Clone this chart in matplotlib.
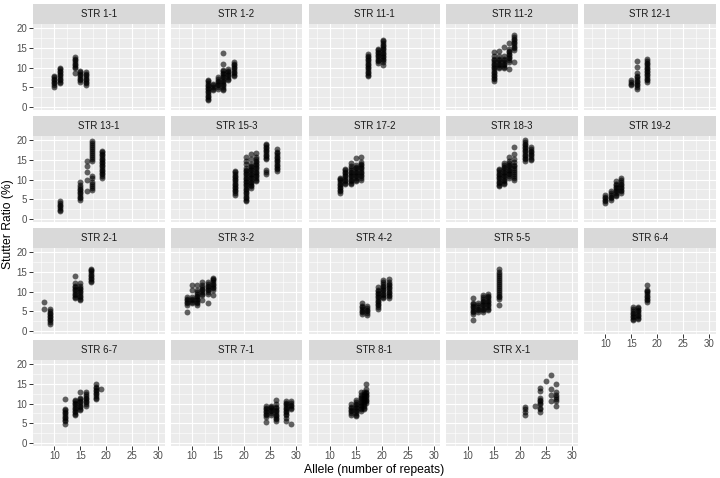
import matplotlib
matplotlib.use("Agg")
import matplotlib.pyplot as plt

plt.rcParams['font.family'] = ['Liberation Sans', 'DejaVu Sans']

# each panel: list of (allele, [stutter ratios])
str_1_1 = [(10, [5.1, 5.6, 6.0, 6.4, 6.8, 7.2, 7.6, 7.9]),
           (11, [6.0, 6.4, 6.8, 7.2, 7.6, 8.0, 8.4, 8.8, 9.2, 9.6, 10.0]),
           (14, [8.7, 9.8, 10.2, 10.6, 11.0, 11.4, 11.8, 12.2, 12.6]),
           (15, [6.4, 6.8, 7.2, 7.6, 8.0, 8.4, 8.8, 9.1]),
           (16, [5.5, 6.0, 6.4, 6.8, 7.2, 7.6, 8.0, 8.4, 8.8])]
str_1_2 = [(13, [1.7, 2.1, 2.5, 2.9, 3.3, 3.7, 4.1, 4.5, 4.9, 5.3, 5.7, 6.1, 6.5, 6.9]),
           (14, [4.3, 4.7, 5.1, 5.5, 5.9]),
           (15, [4.7, 5.1, 5.5, 5.9, 6.3, 6.7, 7.1, 7.5]),
           (16, [4.3, 4.7, 5.1, 5.5, 5.9, 6.3, 6.7, 7.1, 7.5, 7.9, 8.3, 8.7, 9.1, 9.5, 11.0, 13.8]),
           (17, [6.8, 7.2, 7.6, 8.0, 8.4, 8.8, 9.2, 9.6]),
           (18, [7.8, 8.2, 8.6, 9.0, 9.4, 9.8, 10.2, 10.6, 11.0, 11.4])]
str_11_1 = [(17.3, [7.8, 8.2, 8.6, 9.0, 9.4, 9.8, 10.2, 10.6, 11.0, 11.4, 11.8, 12.2, 12.6, 13.0, 13.5]),
            (19.3, [11.2, 11.6, 12.0, 12.4, 12.8, 13.2, 13.6, 14.0, 14.4, 14.8]),
            (20.3, [10.6, 11.4, 11.8, 12.2, 12.6, 13.0, 13.4, 13.8, 14.2, 14.6, 15.0, 15.4, 15.8, 16.2, 16.6, 17.0])]
str_11_2 = [(15, [6.6, 7.0, 7.4, 7.8, 8.2, 8.6, 9.0, 9.4, 9.8, 10.2, 10.6, 11.0, 11.4, 11.8, 12.2, 12.8, 13.9]),
            (16, [9.8, 10.2, 10.6, 11.0, 11.4, 11.8, 12.2, 12.8, 14.3]),
            (17, [9.8, 10.2, 10.6, 11.0, 11.4, 11.8, 12.2, 12.8, 15.3]),
            (18, [9.6, 11.5, 11.9, 12.3, 12.7, 13.1, 13.5, 13.9, 14.3, 14.7, 16.2]),
            (19, [11.5, 14.5, 14.9, 15.3, 15.7, 16.1, 16.5, 16.9, 17.3, 17.7, 18.1])]
str_12_1 = [(15, [5.5, 5.9, 6.3, 6.8]),
            (16, [4.7, 5.1, 5.5, 5.9, 6.3, 6.7, 7.1, 7.5, 7.9, 8.5, 10.2, 11.7]),
            (18, [6.4, 6.8, 7.2, 7.6, 8.0, 8.4, 8.8, 9.2, 9.6, 10.0, 10.4, 10.8, 11.2, 11.6, 12.2])]
str_13_1 = [(11, [2.0, 2.4, 2.8, 3.2, 3.6, 4.0, 4.5]),
            (15, [4.9, 5.3, 5.7, 6.1, 6.5, 6.9, 7.3, 7.7, 8.1, 8.5, 9.4]),
            (16.3, [7.2, 10.0, 11.9, 13.4, 14.6]),
            (17.2, [7.3, 7.8, 8.3, 8.8, 9.3, 10.5, 11.0, 14.7, 15.2, 15.7, 16.2, 16.7, 17.2, 17.7, 18.2, 18.7, 19.2, 19.7]),
            (19.1, [10.5, 10.9, 11.3, 11.7, 12.1, 12.5, 12.9, 13.3, 13.7, 14.1, 14.5, 14.9, 15.3, 15.7, 16.1, 16.5, 16.9, 17.3])]
str_15_3 = [(18.2, [6.2, 6.6, 7.0, 7.4, 7.8, 8.2, 8.6, 9.0, 9.4, 9.8, 10.2, 10.6, 11.0, 11.4, 11.8, 12.2]),
            (20.3, [4.5, 4.9, 5.3, 5.7, 6.1, 6.5, 6.9, 7.3, 7.7, 8.1, 8.5, 8.9, 9.3, 9.7, 10.1, 10.5, 10.9, 11.3, 11.7, 12.1, 12.5, 13.0, 14.0, 14.8, 15.6]),
            (21.3, [7.9, 8.3, 8.7, 9.1, 9.5, 9.9, 10.3, 10.7, 11.1, 11.5, 11.9, 12.3, 12.7, 13.1, 13.5, 14.0, 15.2, 16.4]),
            (22.3, [9.6, 10.0, 10.4, 10.8, 11.2, 11.6, 12.0, 12.4, 12.8, 13.2, 13.6, 14.0, 14.4, 14.8, 15.2, 15.8, 16.8]),
            (24.2, [11.3, 11.8, 12.4, 15.1, 15.5, 15.9, 16.3, 16.7, 17.1, 17.5, 17.9, 18.3, 18.7, 19.0]),
            (26.3, [12.2, 12.6, 13.0, 13.4, 13.8, 14.2, 14.6, 15.0, 15.4, 15.8, 16.2, 16.6, 17.0, 17.7])]
str_17_2 = [(12, [6.6, 7.0, 7.4, 7.8, 8.2, 8.6, 9.0, 9.4, 9.8, 10.2, 10.5]),
            (13, [8.8, 9.2, 9.6, 10.0, 10.4, 10.8, 11.2, 11.6, 12.0, 12.3, 12.6]),
            (14, [8.8, 9.2, 9.6, 10.0, 10.4, 10.8, 11.2, 11.6, 12.0, 12.4, 12.8, 13.3, 14.3]),
            (15, [9.6, 10.0, 10.4, 10.8, 11.2, 11.6, 12.0, 12.4, 12.8, 13.2, 13.8, 15.4]),
            (16, [10.0, 10.4, 10.8, 11.2, 11.6, 12.0, 12.4, 12.8, 13.2, 13.6, 14.0, 14.5, 15.8])]
str_18_3 = [(16, [8.3, 8.7, 9.1, 9.5, 9.9, 10.3, 10.7, 11.1, 11.5, 11.9, 12.3, 12.6]),
            (17, [8.8, 9.2, 9.6, 10.0, 10.4, 10.8, 11.2, 11.6, 12.0, 12.4, 12.8, 13.2, 13.6, 14.3]),
            (18, [10.5, 10.9, 11.3, 11.7, 12.1, 12.5, 12.9, 13.3, 13.7, 14.1, 14.6, 15.6]),
            (19, [9.8, 10.3, 10.8, 11.3, 11.8, 12.3, 12.8, 13.3, 13.8, 14.5, 15.3, 16.5, 18.3]),
            (21.1, [14.7, 15.1, 15.5, 15.9, 16.3, 16.7, 17.1, 17.5, 17.9, 18.3, 18.7, 19.1, 19.5, 20.0]),
            (22.1, [14.9, 15.3, 15.7, 16.1, 16.5, 16.9, 17.3, 17.7, 18.1])]
str_19_2 = [(10, [4.1, 4.5, 4.9, 5.3, 5.7, 6.2]),
            (11, [4.9, 5.3, 5.7, 6.1, 6.5, 7.1]),
            (12, [5.8, 6.2, 6.6, 7.0, 7.4, 7.8, 8.2, 8.6, 9.0, 9.6]),
            (13, [6.6, 7.0, 7.4, 7.8, 8.2, 8.6, 9.0, 9.4, 9.8, 10.5])]
str_2_1 = [(8.1, [5.7, 7.4]),
           (9.2, [1.9, 2.3, 2.7, 3.1, 3.5, 3.9, 4.3, 4.7, 5.1, 5.5]),
           (14, [8.3, 8.7, 9.1, 9.5, 9.9, 10.3, 10.7, 11.1, 11.5, 12.1, 14.0]),
           (15, [7.8, 8.2, 8.6, 9.0, 9.4, 9.8, 10.2, 10.6, 11.0, 11.5, 12.1]),
           (17.1, [12.3, 12.7, 13.1, 13.5, 13.9, 14.3, 14.7, 15.1, 15.5, 15.7])]
str_3_2 = [(9, [4.9, 6.6, 7.0, 7.4, 7.8, 8.2, 8.7]),
           (10, [7.0, 7.4, 7.8, 8.2, 8.7, 10.4, 11.7]),
           (11, [6.6, 7.0, 7.4, 7.8, 8.2, 8.6, 9.0, 9.4, 9.8, 10.4, 11.7]),
           (12, [7.8, 9.1, 9.5, 9.9, 10.3, 10.7, 11.1, 11.7, 12.5]),
           (13, [7.2, 9.5, 9.9, 10.3, 10.7, 11.1, 11.5, 11.9, 12.3]),
           (14, [9.1, 10.4, 10.8, 11.2, 11.6, 12.0, 12.4, 12.8, 13.2, 13.5])]
str_4_2 = [(16.2, [4.4, 4.8, 5.2, 5.6, 6.0, 6.4, 7.0]),
           (17.2, [4.0, 4.6, 5.0, 5.4, 5.8, 6.4]),
           (19.2, [5.7, 6.1, 6.5, 6.9, 7.3, 7.7, 8.1, 8.5, 8.9, 9.3, 9.7, 10.1, 10.5, 11.2]),
           (20.3, [8.3, 8.7, 9.1, 9.5, 9.9, 10.3, 10.7, 11.1, 11.5, 11.9, 12.3, 12.9]),
           (21.3, [8.4, 8.8, 9.2, 9.6, 10.0, 10.4, 10.8, 11.2, 11.6, 12.0, 12.4, 13.1])]
str_5_5 = [(11, [2.7, 4.4, 4.8, 5.2, 5.6, 6.0, 6.4, 6.8, 7.2, 8.3]),
           (12, [4.9, 5.3, 5.7, 6.1, 6.5, 7.0]),
           (13, [4.9, 5.3, 5.7, 6.1, 6.5, 6.9, 7.3, 7.7, 8.1, 8.5, 9.1]),
           (14, [5.3, 5.7, 6.1, 6.5, 6.9, 7.3, 7.7, 8.1, 8.5, 9.0, 9.5]),
           (16.1, [6.7, 8.0, 8.5, 9.0, 9.5, 10.0, 10.5, 11.0, 11.5, 12.0, 12.5, 13.0, 13.5, 14.0, 14.5, 15.0, 15.7])]
str_6_4 = [(15.3, [2.7, 3.1, 3.5, 3.9, 4.3, 4.7, 5.1, 5.5, 6.1]),
           (16.3, [3.0, 3.4, 3.8, 4.2, 4.6, 5.0, 5.4, 5.8, 6.1]),
           (18, [7.4, 7.8, 8.2, 8.6, 9.0, 9.4, 9.8, 10.1, 10.4, 11.7])]
str_6_7 = [(12, [4.9, 5.5, 5.9, 6.3, 6.7, 7.1, 7.5, 7.9, 8.3, 8.7, 11.2]),
           (14, [7.0, 7.4, 7.8, 8.2, 8.6, 9.0, 9.4, 9.8, 10.2, 10.6, 10.9]),
           (15, [8.3, 8.7, 9.1, 9.5, 9.9, 10.3, 10.7, 11.1, 11.5, 13.0]),
           (16, [9.5, 9.9, 10.3, 10.7, 11.1, 11.5, 11.9, 12.3, 12.9]),
           (18, [11.1, 11.5, 11.9, 12.3, 12.7, 13.1, 13.5, 13.9, 14.3, 14.9]),
           (19, [13.6])]
str_7_1 = [(24.2, [5.4, 6.6, 7.0, 7.4, 7.8, 8.2, 8.6, 9.0, 9.4]),
           (25.2, [7.2, 7.6, 8.0, 8.4, 8.8, 9.2, 9.5]),
           (26.1, [5.5, 6.0, 6.4, 6.8, 7.2, 7.6, 8.0, 8.4, 8.8, 9.2, 9.8, 10.9]),
           (28.1, [5.5, 6.3, 7.0, 7.4, 7.8, 8.2, 8.6, 9.0, 9.4, 9.8, 10.2, 10.6]),
           (29.0, [4.9, 8.5, 8.9, 9.3, 9.7, 10.1, 10.6])]
str_8_1 = [(14, [7.2, 7.6, 8.0, 8.4, 8.8, 9.2, 9.8]),
           (15, [6.8, 7.2, 7.6, 8.0, 8.4, 8.8, 9.2, 9.6, 10.0, 10.4, 10.8]),
           (16, [8.1, 8.5, 8.9, 9.3, 9.7, 10.1, 10.5, 10.9, 11.3, 11.7, 12.1, 12.8]),
           (16.5, [8.5, 9.0, 9.5, 10.0, 10.5, 11.0, 11.5, 12.0, 12.5, 13.0]),
           (17, [10.2, 10.6, 11.0, 11.4, 11.8, 12.2, 12.6, 13.0, 13.6, 14.9])]
str_x_1 = [(21, [7.2, 7.9, 8.5, 9.2]),
           (23, [9.4]),
           (24, [7.9, 8.5, 8.9, 9.8, 10.2, 10.6, 10.9, 11.5, 13.2, 14.0]),
           (25, [15.7]),
           (26, [10.6, 12.1, 13.6, 17.3]),
           (27, [9.3, 10.7, 11.1, 11.6, 12.1, 12.9, 15.0])]

panel_names = ["STR 1-1", "STR 1-2", "STR 11-1", "STR 11-2", "STR 12-1",
               "STR 13-1", "STR 15-3", "STR 17-2", "STR 18-3", "STR 19-2",
               "STR 2-1", "STR 3-2", "STR 4-2", "STR 5-5", "STR 6-4",
               "STR 6-7", "STR 7-1", "STR 8-1", "STR X-1"]
panel_data = [str_1_1, str_1_2, str_11_1, str_11_2, str_12_1,
              str_13_1, str_15_3, str_17_2, str_18_3, str_19_2,
              str_2_1, str_3_2, str_4_2, str_5_5, str_6_4,
              str_6_7, str_7_1, str_8_1, str_x_1]

x_ticks = [10, 15, 20, 25, 30]
y_ticks = [0, 5, 10, 15, 20]

W, H = 720, 478
fig = plt.figure(figsize=(W / 100, H / 100), dpi=100)


def px_axes(x0, y0, w, h):
    return fig.add_axes([x0 / W, 1 - (y0 + h) / H, w / W, h / H])


col_left, col_step, panel_w = 33, 137.75, 131.6
row_top, row_step, strip_h, panel_h = 4, 112, 20, 85.5

for i, (name, cols) in enumerate(zip(panel_names, panel_data)):
    r, c = divmod(i, 5)
    x0 = col_left + c * col_step
    y0 = row_top + r * row_step

    # strip
    sax = px_axes(x0, y0, panel_w, strip_h)
    sax.set_facecolor('#D9D9D9')
    sax.set_xticks([])
    sax.set_yticks([])
    for sp in sax.spines.values():
        sp.set_visible(False)
    sax.text(0.5, 0.5, name, ha='center', va='center', fontsize=7, color='#1A1A1A',
             transform=sax.transAxes)

    ax = px_axes(x0, y0 + strip_h, panel_w, panel_h)
    ax.set_facecolor('#EBEBEB')
    for sp in ax.spines.values():
        sp.set_visible(False)
    ax.set_xlim(5.9, 31.2)
    ax.set_ylim(-0.6, 21.0)
    ax.set_xticks(x_ticks)
    ax.set_yticks(y_ticks)
    ax.set_xticks([7.5, 12.5, 17.5, 22.5, 27.5], minor=True)
    ax.set_yticks([2.5, 7.5, 12.5, 17.5], minor=True)
    ax.grid(which='major', color='white', linewidth=0.8)
    ax.grid(which='minor', color='white', linewidth=0.4)
    ax.set_axisbelow(True)
    ax.tick_params(which='minor', length=0)
    ax.tick_params(which='major', length=2.7, width=0.7, color='#333333',
                   labelsize=7, labelcolor='#4D4D4D', pad=1.5)

    show_y = c == 0
    show_x = r == 3 or (r == 2 and c == 4)
    if not show_y:
        ax.tick_params(axis='y', length=0, labelleft=False)
    if not show_x:
        ax.tick_params(axis='x', length=0, labelbottom=False)

    xs, ys = [], []
    for allele, vals in cols:
        xs += [allele] * len(vals)
        ys += vals
    ax.scatter(xs, ys, s=18, color='black', alpha=0.6, linewidths=0, zorder=3)

fig.text(374.5 / W, 1 - 470 / H, 'Allele (number of repeats)', ha='center', va='center',
         fontsize=8.7, color='black')
fig.text(8 / W, 1 - 224.5 / H, 'Stutter Ratio (%)', ha='center', va='center',
         rotation=90, fontsize=8.7, color='black')

fig.savefig('out.png', dpi=100)
